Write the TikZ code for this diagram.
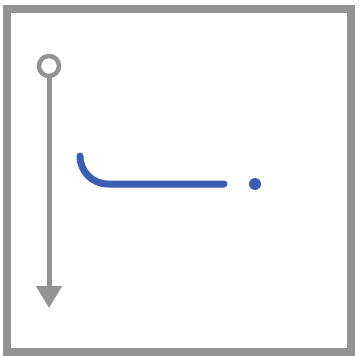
\documentclass[tikz,border=0pt]{standalone}
\usetikzlibrary{arrows.meta, positioning}
\definecolor{cgrey}{HTML}{939396}
\definecolor{cblue}{HTML}{3A5EB2}
\tikzset{
  frame/.style={draw=cgrey, line width=8pt},
  origin/.style={circle, draw=cgrey, fill=white, line width=4.5pt, minimum size=20pt, inner sep=0pt},
  axis/.style={-{Triangle[length=22pt, width=25pt]}, draw=cgrey, line width=5pt},
  stroke/.style={draw=cblue, line width=7pt, line cap=round, rounded corners=28pt},
  dot/.style={circle, fill=cblue, minimum size=12pt, inner sep=0pt},
}
\begin{document}
\begin{tikzpicture}[x=1pt, y=-1pt]
  \useasboundingbox (0,0) rectangle (359,356);
  \draw[frame] (7,9) rectangle (351,352);
  \node[origin] (o) at (49,66) {};
  \coordinate (end) at (49,308);
  \draw[axis] (o) -- (end);
  % blue stroke and the dot after it
  \draw[stroke] (80,156) |- (224,184);
  \node[dot] (d) at (255,184) {};
\end{tikzpicture}
\end{document}
